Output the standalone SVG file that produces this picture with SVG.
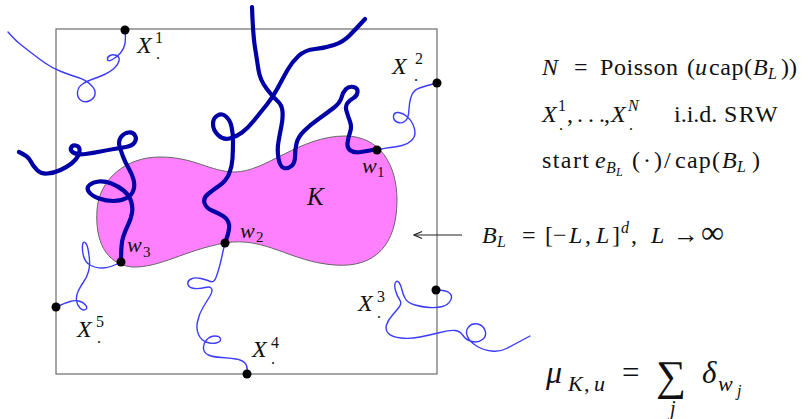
<svg xmlns="http://www.w3.org/2000/svg" width="812" height="419" viewBox="0 0 812 419">
<defs>
<style>
.t{font-family:"Liberation Serif","DejaVu Serif",serif;fill:#111}
.i{font-style:italic}
.thick{fill:none;stroke:#0000a6;stroke-width:4.2;stroke-linecap:round;stroke-linejoin:round}
.thin{fill:none;stroke:#3c3cff;stroke-width:1.4;stroke-linecap:round;stroke-linejoin:round}
.dot{fill:#000}
</style>
<marker id="arr" markerWidth="10" markerHeight="10" refX="9" refY="5" orient="auto" markerUnits="userSpaceOnUse"><path d="M1,1.5 L9,5 L1,8.5" fill="none" stroke="#222" stroke-width="1.2"/></marker>
</defs>
<rect width="812" height="419" fill="#fff"/>
<g id="box-BL"><rect x="56" y="29" width="381" height="345" fill="none" stroke="#777" stroke-width="1.3"/></g>
<g id="set-K"><path d="M97,210 C99,180 125,157 160,157 C195,157 210,172 235,172 C265,172 300,136 345,136 C380,136 397,165 397,200 C397,245 375,268 335,265 C290,262 265,236 225,243 C185,250 160,268 132,267 C105,264 95,240 97,210 Z" fill="#ff80ff" stroke="#666" stroke-width="1"/>
<text class="t i" x="307" y="205" font-size="25">K</text></g>
<g id="walks">
<path class="thin" d="M125,30 Q126,38 125,43.5 Q124,49 120.5,53 Q117,57 112.5,59.5 Q108,62 107.5,59.5 Q107,57 110,55.5 Q113,54 116.5,55.5 Q120,57 119,61 Q118,65 114,68.5 Q110,72 104.5,74.5 Q99,77 93,79 Q87,81 82.5,84 Q78,87 77.5,92 Q77,97 80.5,100 Q84,103 89,101 Q94,99 95,94.5 Q96,90 91,85 Q86,80 78,77.5 Q70,75 61,71.5 Q52,68 45,63 Q38,58 31.5,53 Q25,48 20,44 Q15,40 8,32"/>
<path class="thin" d="M437,83 Q425,86 419.5,88 Q414,90 412,94.5 Q410,99 409.5,104 Q409,109 408.5,114 Q408,119 404.5,121.5 Q401,124 397,122 Q393,120 393.5,116 Q394,112 398.5,112.5 Q403,113 407,116.5 Q411,120 413,124.5 Q415,129 415,133 Q415,137 411.5,140.5 Q408,144 402,145.5 Q396,147 390.5,147.5 Q385,148 377,150"/>
<path class="thin" d="M436,290 Q446,290 449.5,293 Q453,296 450.5,300.5 Q448,305 442.5,306.5 Q437,308 429.5,307.5 Q422,307 415,305 Q408,303 405.5,299 Q403,295 402,290 Q401,285 399,282.5 Q397,280 395.5,282.5 Q394,285 395.5,290.5 Q397,296 399.5,299.5 Q402,303 399.5,306.5 Q397,310 392.5,315 Q388,320 386.5,325 Q385,330 388.5,333.5 Q392,337 401,338 Q410,339 420,337 Q430,335 440,332.5 Q450,330 455,330.5 Q460,331 463,335.5 Q466,340 472,341.5 Q478,343 482.5,339.5 Q487,336 485,330.5 Q483,325 477.5,324 Q472,323 468.5,327 Q465,331 467.5,336.5 Q470,342 476.5,346 Q483,350 491.5,351 Q500,352 506.5,348.5 Q513,345 530,336"/>
<path class="thin" d="M247,374 Q248,366 245,363 Q242,360 236,359 Q230,358 221.5,357.5 Q213,357 208.5,355 Q204,353 203.5,348.5 Q203,344 206.5,340 Q210,336 215,336 Q220,336 220.5,339 Q221,342 216,343 Q211,344 206,342 Q201,340 198.5,334.5 Q196,329 197.5,321.5 Q199,314 203,307.5 Q207,301 210,296 Q213,291 211.5,288.5 Q210,286 205,287.5 Q200,289 194.5,288.5 Q189,288 188,284.5 Q187,281 191,279 Q195,277 201,278.5 Q207,280 210.5,281.5 Q214,283 216,277.5 Q218,272 219.5,266.5 Q221,261 222,256 Q223,251 225,243"/>
<path class="thin" d="M56,307 Q65,303 70,301.5 Q75,300 79,301 Q83,302 85.5,305 Q88,308 85.5,309.5 Q83,311 80,308 Q77,305 76.5,300.5 Q76,296 78,291.5 Q80,287 83.5,282 Q87,277 88.5,271.5 Q90,266 89.5,260 Q89,254 88,249 Q87,244 85,242.5 Q83,241 82.5,245.5 Q82,250 83.5,256 Q85,262 90,265 Q95,268 102.5,268 Q110,268 121,262"/>
<path class="thick" d="M252,7 Q253,35 255,47.5 Q257,60 258.5,70 Q260,80 266.5,88.5 Q273,97 277.5,101 Q282,105 282.5,111.5 Q283,118 281.5,125.5 Q280,133 278.5,141.5 Q277,150 278.5,158.5 Q280,167 284,168 Q288,169 291.5,166 Q295,163 295,156.5 Q295,150 296.5,143.5 Q298,137 304,131 Q310,125 318.5,119 Q327,113 333.5,108 Q340,103 341.5,97.5 Q343,92 346,89 Q349,86 353.5,87 Q358,88 357.5,92 Q357,96 353.5,98 Q350,100 347.5,103 Q345,106 346.5,111 Q348,116 350,121.5 Q352,127 350,132.5 Q348,138 347.5,143 Q347,148 350.5,150.5 Q354,153 361,152 Q368,151 377,149"/>
<path class="thick" d="M365,19 Q355,30 349,36 Q343,42 334,45 Q325,48 315,49 Q305,50 298.5,56 Q292,62 287.5,70 Q283,78 278,87.5 Q273,97 266.5,105 Q260,113 254,120.5 Q248,128 242,132.5 Q236,137 229.5,138.5 Q223,140 218,135 Q213,130 213,124 Q213,118 217.5,115.5 Q222,113 226,116.5 Q230,120 231.5,126.5 Q233,133 233,141.5 Q233,150 232.5,158.5 Q232,167 229,174 Q226,181 219.5,185.5 Q213,190 208,194 Q203,198 204.5,203 Q206,208 212,210.5 Q218,213 223,216 Q228,219 229,224.5 Q230,230 225,243"/>
<path class="thick" d="M19,152 Q28,156 30.5,161 Q33,166 37,170 Q41,174 47.5,173.5 Q54,173 60.5,170 Q67,167 71.5,163.5 Q76,160 78,156 Q80,152 79.5,149 Q79,146 75.5,145.5 Q72,145 71,148 Q70,151 74,153 Q78,155 85.5,154 Q93,153 100.5,151.5 Q108,150 114,149 Q120,148 126,147 Q132,146 134.5,142.5 Q137,139 135,135.5 Q133,132 128.5,132.5 Q124,133 121,137 Q118,141 119.5,146 Q121,151 123,156.5 Q125,162 128.5,168 Q132,174 133.5,179.5 Q135,185 133.5,190 Q132,195 126.5,198 Q121,201 113.5,201 Q106,201 99,198.5 Q92,196 89,192 Q86,188 89.5,185 Q93,182 99,181.5 Q105,181 111.5,183.5 Q118,186 123.5,190.5 Q129,195 131,201 Q133,207 132,213 Q131,219 128,225 Q125,231 123,237.5 Q121,244 121,262"/>
</g>
<g id="points">
<circle class="dot" cx="125" cy="30" r="4.5"/>
<circle class="dot" cx="437" cy="83" r="4.5"/>
<circle class="dot" cx="436" cy="290" r="4.5"/>
<circle class="dot" cx="247" cy="374" r="4.5"/>
<circle class="dot" cx="56" cy="307" r="4.5"/>
<circle class="dot" cx="377" cy="150" r="4.5"/>
<circle class="dot" cx="225" cy="243" r="4.5"/>
<circle class="dot" cx="121" cy="262" r="4.5"/>
</g>
<g id="labels" class="t" font-size="24">
<text><tspan class="i" x="137" y="53">X</tspan><tspan x="155" y="43" font-size="16">1</tspan><tspan x="156" y="59" font-size="16">.</tspan></text>
<text><tspan class="i" x="392" y="74">X</tspan><tspan x="415" y="64" font-size="16">2</tspan><tspan x="414" y="81" font-size="16">.</tspan></text>
<text><tspan class="i" x="358" y="311">X</tspan><tspan x="377" y="302" font-size="16">3</tspan><tspan x="377" y="318" font-size="16">.</tspan></text>
<text><tspan class="i" x="252" y="357">X</tspan><tspan x="271" y="348" font-size="16">4</tspan><tspan x="271" y="364" font-size="16">.</tspan></text>
<text><tspan class="i" x="77" y="337">X</tspan><tspan x="96" y="327" font-size="16">5</tspan><tspan x="97" y="343" font-size="16">.</tspan></text>
<text font-size="22"><tspan class="i" x="362" y="173">w</tspan><tspan x="377" y="177" font-size="15">1</tspan></text>
<text font-size="22"><tspan class="i" x="240" y="238">w</tspan><tspan x="256" y="242" font-size="15">2</tspan></text>
<text font-size="22"><tspan class="i" x="127" y="252">w</tspan><tspan x="143" y="257" font-size="15">3</tspan></text>
</g>
<g id="annotations" class="t" font-size="24">
<text y="75"><tspan class="i" x="542">N</tspan><tspan x="574">=</tspan><tspan x="600" textLength="78">Poisson</tspan><tspan x="687">(</tspan><tspan class="i" x="695">u</tspan><tspan x="709" textLength="43">cap(</tspan><tspan class="i" x="753">B</tspan><tspan class="i" x="768" y="79" font-size="16">L</tspan><tspan x="781" y="75">))</tspan></text>
<text y="122"><tspan class="i" x="542">X</tspan><tspan x="558" y="111" font-size="16">1</tspan><tspan x="559" y="130" font-size="16">.</tspan><tspan x="567" y="122">,</tspan><tspan x="577">.</tspan><tspan x="588">.</tspan><tspan x="599">.</tspan><tspan x="604">,</tspan><tspan class="i" x="611">X</tspan><tspan class="i" x="628" y="111" font-size="16">N</tspan><tspan x="629" y="130" font-size="16">.</tspan><tspan x="674" y="122">i.i.d.</tspan><tspan x="724" letter-spacing="1.5">SRW</tspan></text>
<text y="168"><tspan x="542" textLength="47">start</tspan><tspan class="i" x="595">e</tspan><tspan class="i" x="606" y="173" font-size="16">B</tspan><tspan class="i" x="616" y="176" font-size="12">L</tspan><tspan x="632" y="168" textLength="30">(·)</tspan><tspan x="664">/</tspan><tspan x="675" textLength="45">cap(</tspan><tspan class="i" x="722">B</tspan><tspan class="i" x="737" y="172" font-size="16">L</tspan><tspan x="752" y="168">)</tspan></text>
<text y="243"><tspan class="i" x="482">B</tspan><tspan class="i" x="497" y="247" font-size="16">L</tspan><tspan x="522" y="243">=</tspan><tspan x="545">[</tspan><tspan x="553">−</tspan><tspan class="i" x="569">L</tspan><tspan x="585">,</tspan><tspan class="i" x="596">L</tspan><tspan x="612">]</tspan><tspan class="i" x="621" y="233" font-size="16">d</tspan><tspan x="631" y="243">,</tspan><tspan class="i" x="651">L</tspan><tspan x="673" font-size="26">→</tspan><tspan x="701" font-size="32">∞</tspan></text>
<text y="383" font-size="31"><tspan class="i" x="546" font-size="32">μ</tspan><tspan class="i" x="568" y="391" font-size="22">K</tspan><tspan x="584" y="391" font-size="22">,</tspan><tspan class="i" x="594" y="391" font-size="22">u</tspan><tspan x="622" y="383">=</tspan><tspan x="656" y="390" font-size="42">∑</tspan><tspan class="i" x="670" y="415" font-size="20">j</tspan><tspan class="i" x="702" y="383">δ</tspan><tspan class="i" x="718" y="391" font-size="22">w</tspan><tspan class="i" x="737" y="396" font-size="16">j</tspan></text>
</g>
<g id="connectors"><line x1="462" y1="235" x2="414" y2="235" stroke="#222" stroke-width="1" marker-end="url(#arr)"/></g>
</svg>
